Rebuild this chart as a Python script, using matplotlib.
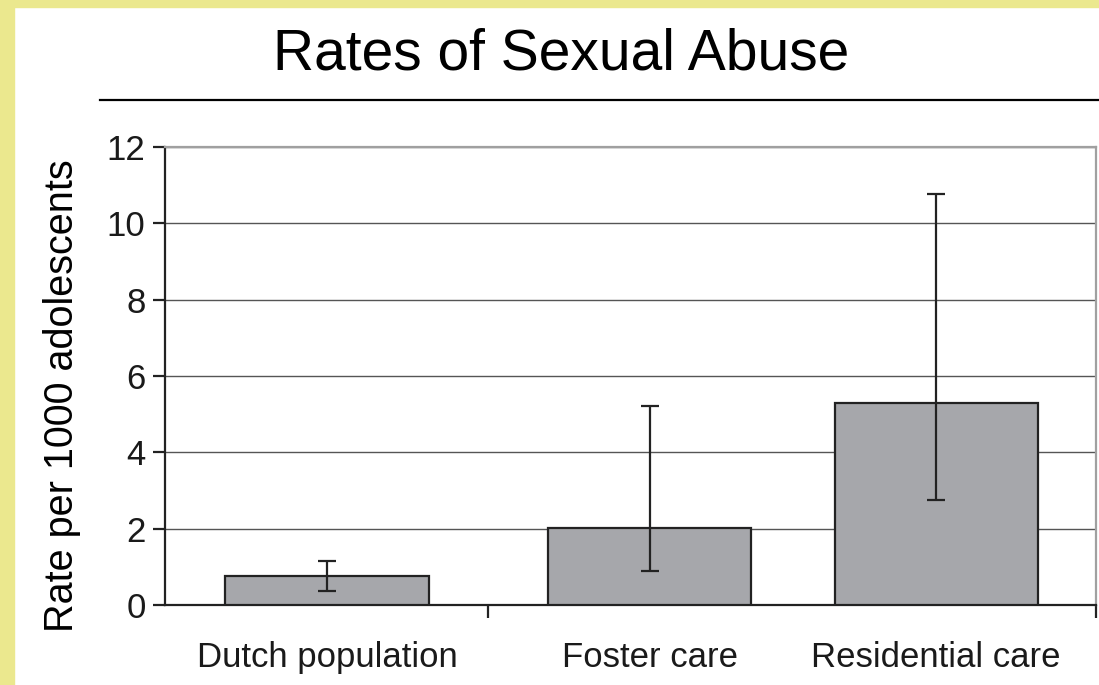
import matplotlib.pyplot as plt
from matplotlib.lines import Line2D
from matplotlib.patches import Rectangle

categories = ["Dutch population", "Foster care", "Residential care"]
rates = [0.75, 2.03, 5.28]
ci_low = [0.37, 0.90, 2.75]
ci_high = [1.15, 5.22, 10.78]
yticks = [0, 2, 4, 6, 8, 10, 12]

plt.rcParams["font.family"] = ["Liberation Sans", "DejaVu Sans"]

fig = plt.figure(figsize=(10.99, 6.85), dpi=100)
fig.patch.set_facecolor("white")

# yellow slide border
yellow = "#ebe88e"
fig.add_artist(Rectangle((0, 1 - 7 / 685), 1, 7 / 685, transform=fig.transFigure,
                         color=yellow, zorder=0))
fig.add_artist(Rectangle((0, 0), 14 / 1099, 1, transform=fig.transFigure,
                         color=yellow, zorder=0))

fig.text(561 / 1099, 1 - 55 / 685, "Rates of Sexual Abuse", fontsize=41,
         ha="center", va="center", color="black")
fig.add_artist(Line2D([100 / 1099, 1], [1 - 100 / 685, 1 - 100 / 685],
                      transform=fig.transFigure, color="black", lw=1.6))

ax = fig.add_axes([165 / 1099, 1 - 605 / 685, (1096 - 165) / 1099, (605 - 147) / 685])

# bar centres as in the source figure (middle one sits a bit right)
x = [0, 1.06, 2]
lower = [r - lo for r, lo in zip(rates, ci_low)]
upper = [hi - r for r, hi in zip(rates, ci_high)]

ax.bar(x, rates, width=0.667, color="#a6a7ab", edgecolor="#222222", linewidth=1.6, zorder=3)
ax.errorbar(x, rates, yerr=[lower, upper], fmt="none", ecolor="#222222",
            elinewidth=1.6, capsize=6.8, capthick=1.6, zorder=4)

ax.set_xlim(-0.532, 2.525)
ax.set_ylim(0, 12)
ax.set_yticks(yticks)
ax.set_yticklabels([str(t) for t in yticks], fontsize=25, color="#1a1a1a")
ax.set_xticks(x)
ax.set_xticklabels(categories, fontsize=25, color="#1a1a1a")
ax.tick_params(axis="x", which="major", length=0, pad=26)
ax.set_xticks([0.53, 2.525], minor=True)
ax.tick_params(axis="x", which="minor", length=9, width=1.6, color="#222222", direction="out")
ax.tick_params(axis="y", length=9, width=1.6, color="#222222", pad=5)

ax.grid(axis="y", color="#555555", linewidth=1.0, zorder=0)
ax.set_axisbelow(True)

ax.spines["left"].set_color("#222222")
ax.spines["left"].set_linewidth(1.6)
ax.spines["bottom"].set_color("#222222")
ax.spines["bottom"].set_linewidth(1.6)
ax.spines["top"].set_color("#a0a0a0")
ax.spines["top"].set_linewidth(1.6)
ax.spines["right"].set_color("#a0a0a0")
ax.spines["right"].set_linewidth(1.6)

fig.text(62 / 1099, 1 - 396 / 685, "Rate per 1000 adolescents", fontsize=28.5,
         rotation=90, ha="center", va="center", color="black")

fig.savefig("out.png", dpi=100)
